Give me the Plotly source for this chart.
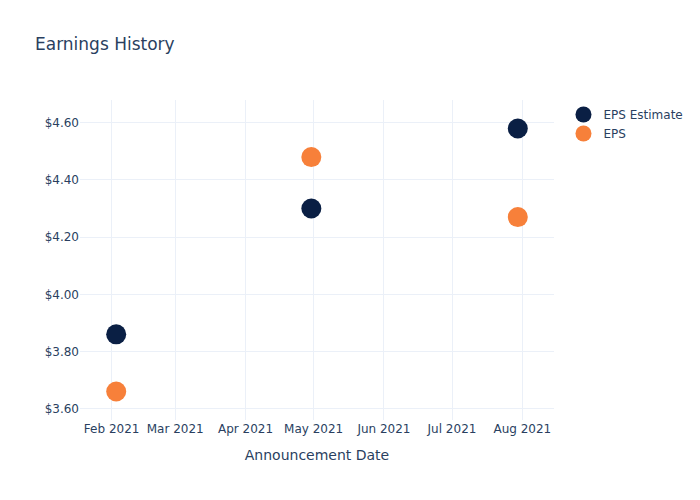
import plotly.graph_objects as go

dates = ["2021-02-03", "2021-04-30", "2021-07-30"]
eps_estimate = [3.86, 4.30, 4.58]
eps_actual = [3.66, 4.48, 4.27]

fig = go.Figure()
fig.add_trace(go.Scatter(x=dates, y=eps_estimate, mode="markers", name="EPS Estimate",
                         marker=dict(color="#0A1F44", size=20)))
fig.add_trace(go.Scatter(x=dates, y=eps_actual, mode="markers", name="EPS",
                         marker=dict(color="#F7803A", size=20)))
fig.update_layout(
    template="plotly_white",
    font=dict(family="DejaVu Sans"),
    title="Earnings History",
    xaxis_title="Announcement Date",
    yaxis=dict(tickprefix="$", tickformat=".2f"),
    width=700, height=500,
)
fig.write_html("out.html")
